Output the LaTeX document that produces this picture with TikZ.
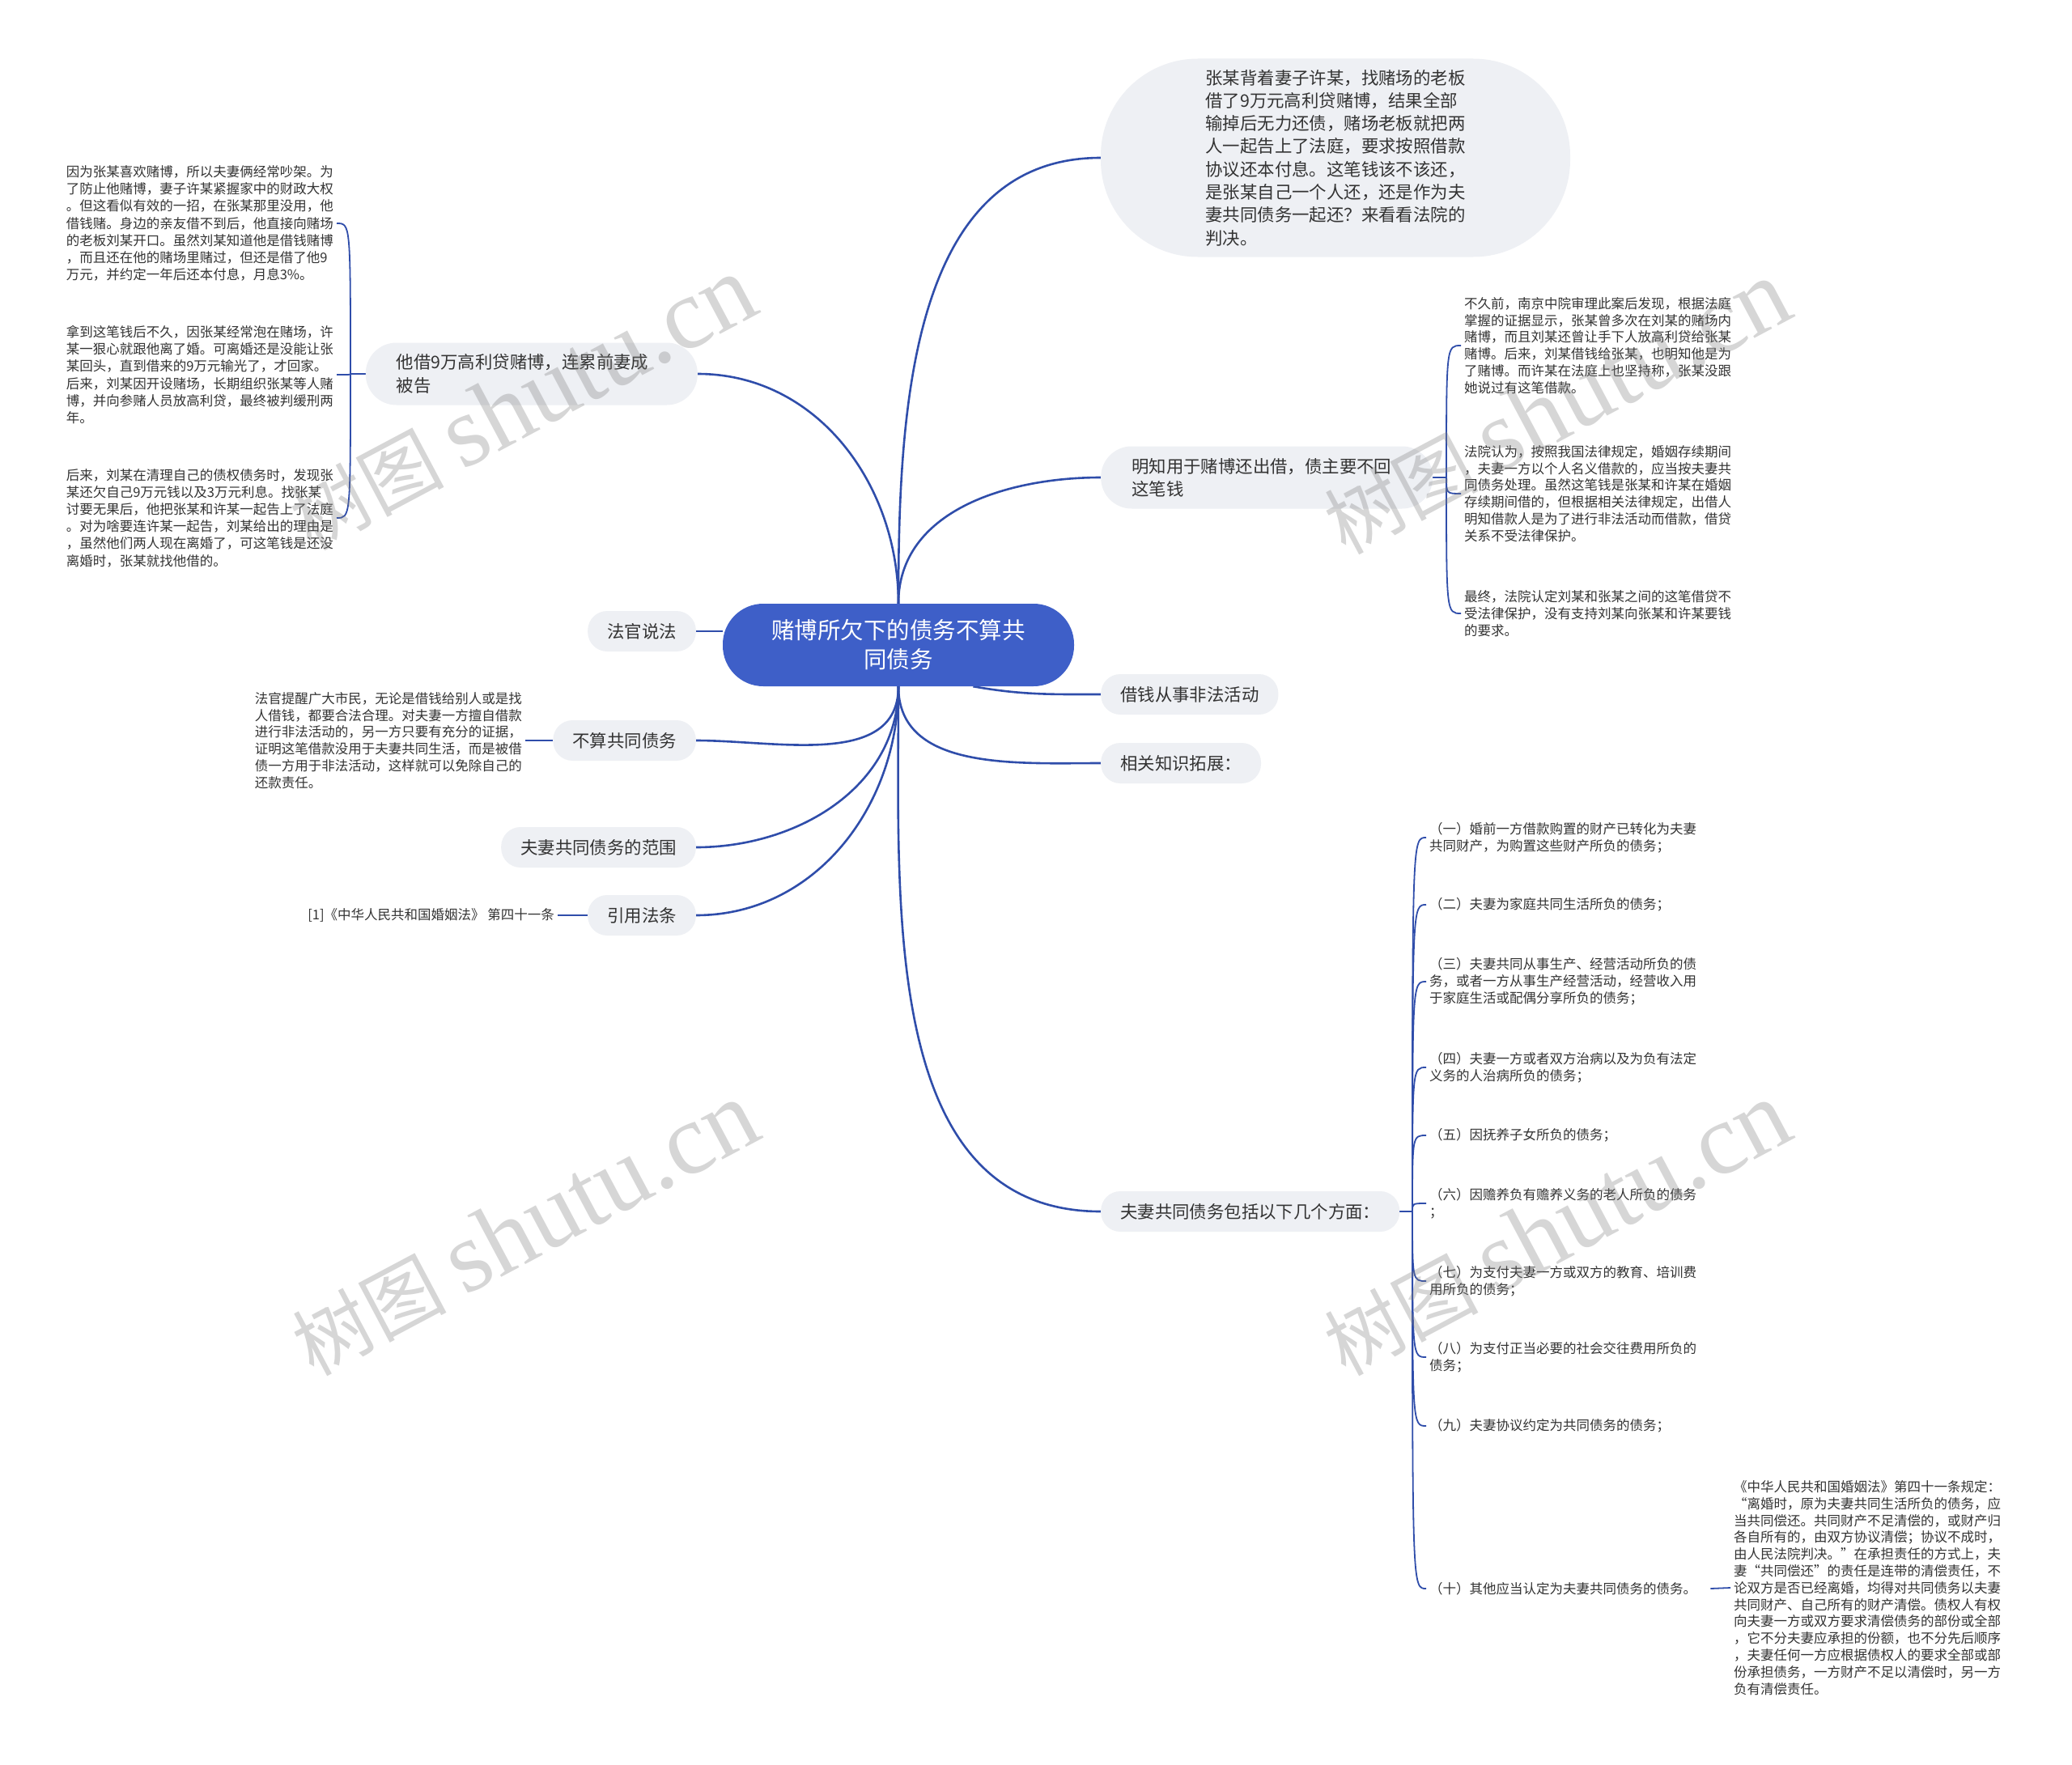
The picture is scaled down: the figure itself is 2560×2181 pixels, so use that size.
\documentclass[tikz,border=0pt]{standalone}
\usepackage{fontspec}
\setmainfont{Noto Sans CJK SC}
\newfontfamily\wmfont{Liberation Serif}
\usetikzlibrary{backgrounds}

\definecolor{blu}{HTML}{3E5FC8}
\definecolor{blusc}{HTML}{2F4DAA}
\definecolor{grigio}{HTML}{EEF0F4}
\definecolor{testo}{HTML}{333333}

\newcommand\rootfont{\fontsize{28.5}{36}\selectfont}
\newcommand\topicfont{\fontsize{21.4}{28.3}\selectfont}
\newcommand\leaffont{\fontsize{16.5}{20.8}\selectfont}
\newcommand\leftleaffont{\fontsize{16.5}{21.2}\selectfont}

\tikzset{
  rootnode/.style={fill=blu, text=white, font=\rootfont, align=center,
    minimum width=434, minimum height=102, rounded corners=50},
  topic/.style={fill=grigio, text=testo, font=\topicfont, inner xsep=24,
    inner ysep=4, minimum height=50, rounded corners=24},
  leaf/.style={text=testo, font=\leaffont, align=left, inner sep=4},
  branch/.style={draw=blusc, line width=2.6},
  twig/.style={draw=blusc, line width=1.8},
  watermark/.style={text=gray, text opacity=0.32, font=\fontsize{95}{95}\selectfont}
}

\begin{document}
\begin{tikzpicture}[x=1pt,y=1pt]
    \useasboundingbox (0,0) rectangle (2560,-2181);

    % Nodo centrale
    \node[rootnode] (root) at (1110,-797) {赌博所欠下的债务不算共\\同债务};

    % Rami a destra
    \node[topic, align=left, minimum width=580, minimum height=245, rounded corners=120] (n1) at (1650,-195)
        {张某背着妻子许某，找赌场的老板\\借了9万元高利贷赌博，结果全部\\输掉后无力还债，赌场老板就把两\\人一起告上了法庭，要求按照借款\\协议还本付息。这笔钱该不该还，\\是张某自己一个人还，还是作为夫\\妻共同债务一起还？来看看法院的\\判决。};
    \node[topic, anchor=west, align=left, text width=334, inner xsep=38, minimum height=77, rounded corners=38] (n2) at (1360,-590)
        {明知用于赌博还出借，债主要不回\\这笔钱};
    \node[topic, anchor=west] (n3) at (1360,-858) {借钱从事非法活动};
    \node[topic, anchor=west] (n4) at (1360,-943) {相关知识拓展：};
    \node[topic, anchor=west] (n5) at (1360,-1497) {夫妻共同债务包括以下几个方面：};

    % Rami a sinistra
    \node[topic, anchor=east, align=left, text width=334, inner xsep=38, minimum height=77, rounded corners=38] (n6) at (862,-462)
        {他借9万高利贷赌博，连累前妻成\\被告};
    \node[topic, anchor=east] (n7) at (860,-780) {法官说法};
    \node[topic, anchor=east] (n8) at (860,-915) {不算共同债务};
    \node[topic, anchor=east] (n9) at (860,-1047) {夫妻共同债务的范围};
    \node[topic, anchor=east] (n10) at (860,-1131) {引用法条};

    % Foglie di n6
    \node[leaf, font=\leftleaffont, anchor=east] (l6a) at (416,-276)
        {因为张某喜欢赌博，所以夫妻俩经常吵架。为\\了防止他赌博，妻子许某紧握家中的财政大权\\。但这看似有效的一招，在张某那里没用，他\\借钱赌。身边的亲友借不到后，他直接向赌场\\的老板刘某开口。虽然刘某知道他是借钱赌博\\，而且还在他的赌场里赌过，但还是借了他9\\万元，并约定一年后还本付息，月息3\%。};
    \node[leaf, font=\leftleaffont, anchor=east] (l6b) at (416,-463)
        {拿到这笔钱后不久，因张某经常泡在赌场，许\\某一狠心就跟他离了婚。可离婚还是没能让张\\某回头，直到借来的9万元输光了，才回家。\\后来，刘某因开设赌场，长期组织张某等人赌\\博，并向参赌人员放高利贷，最终被判缓刑两\\年。};
    \node[leaf, font=\leftleaffont, anchor=east] (l6c) at (416,-640)
        {后来，刘某在清理自己的债权债务时，发现张\\某还欠自己9万元钱以及3万元利息。找张某\\讨要无果后，他把张某和许某一起告上了法庭\\。对为啥要连许某一起告，刘某给出的理由是\\，虽然他们两人现在离婚了，可这笔钱是还没\\离婚时，张某就找他借的。};

    % Foglie di n2
    \node[leaf, anchor=west] (l2a) at (1805,-427)
        {不久前，南京中院审理此案后发现，根据法庭\\掌握的证据显示，张某曾多次在刘某的赌场内\\赌博，而且刘某还曾让手下人放高利贷给张某\\赌博。后来，刘某借钱给张某，也明知他是为\\了赌博。而许某在法庭上也坚持称，张某没跟\\她说过有这笔借款。};
    \node[leaf, anchor=west] (l2b) at (1805,-610)
        {法院认为，按照我国法律规定，婚姻存续期间\\，夫妻一方以个人名义借款的，应当按夫妻共\\同债务处理。虽然这笔钱是张某和许某在婚姻\\存续期间借的，但根据相关法律规定，出借人\\明知借款人是为了进行非法活动而借款，借贷\\关系不受法律保护。};
    \node[leaf, anchor=west] (l2c) at (1805,-758)
        {最终，法院认定刘某和张某之间的这笔借贷不\\受法律保护，没有支持刘某向张某和许某要钱\\的要求。};

    % Foglie di n8 e n10
    \node[leaf, anchor=east] (l8) at (649,-915)
        {法官提醒广大市民，无论是借钱给别人或是找\\人借钱，都要合法合理。对夫妻一方擅自借款\\进行非法活动的，另一方只要有充分的证据，\\证明这笔借款没用于夫妻共同生活，而是被借\\债一方用于非法活动，这样就可以免除自己的\\还款责任。};
    \node[leaf, anchor=east] (l10) at (689,-1131) {[1]《中华人民共和国婚姻法》 第四十一条};

    % Elenco di n5
    \node[leaf, anchor=west] (i1) at (1762,-1035) {（一）婚前一方借款购置的财产已转化为夫妻\\共同财产，为购置这些财产所负的债务；};
    \node[leaf, anchor=west] (i2) at (1762,-1118) {（二）夫妻为家庭共同生活所负的债务；};
    \node[leaf, anchor=west] (i3) at (1762,-1213) {（三）夫妻共同从事生产、经营活动所负的债\\务，或者一方从事生产经营活动，经营收入用\\于家庭生活或配偶分享所负的债务；};
    \node[leaf, anchor=west] (i4) at (1762,-1319) {（四）夫妻一方或者双方治病以及为负有法定\\义务的人治病所负的债务；};
    \node[leaf, anchor=west] (i5) at (1762,-1403) {（五）因抚养子女所负的债务；};
    \node[leaf, anchor=west] (i6) at (1762,-1487) {（六）因赡养负有赡养义务的老人所负的债务\\；};
    \node[leaf, anchor=west] (i7) at (1762,-1583) {（七）为支付夫妻一方或双方的教育、培训费\\用所负的债务；};
    \node[leaf, anchor=west] (i8) at (1762,-1677) {（八）为支付正当必要的社会交往费用所负的\\债务；};
    \node[leaf, anchor=west] (i9) at (1762,-1762) {（九）夫妻协议约定为共同债务的债务；};
    \node[leaf, anchor=west] (i10) at (1762,-1963) {（十）其他应当认定为夫妻共同债务的债务。};
    \node[leaf, anchor=west] (l10x) at (2138,-1962)
        {《中华人民共和国婚姻法》第四十一条规定：\\“离婚时，原为夫妻共同生活所负的债务，应\\当共同偿还。共同财产不足清偿的，或财产归\\各自所有的，由双方协议清偿；协议不成时，\\由人民法院判决。”在承担责任的方式上，夫\\妻“共同偿还”的责任是连带的清偿责任，不\\论双方是否已经离婚，均得对共同债务以夫妻\\共同财产、自己所有的财产清偿。债权人有权\\向夫妻一方或双方要求清偿债务的部份或全部\\，它不分夫妻应承担的份额，也不分先后顺序\\，夫妻任何一方应根据债权人的要求全部或部\\份承担债务，一方财产不足以清偿时，另一方\\负有清偿责任。};

    \begin{scope}[on background layer]
        \fill[white] (0,0) rectangle (2560,-2181);

        % Collegamenti dal nodo centrale
        \draw[branch] (root.north) to[out=90,in=180] (n1.west);
        \draw[branch] (root.north) to[out=90,in=180] (n2.west);
        \draw[branch] (root.north) to[out=90,in=0] (n6.east);
        \draw[branch] (root.west |- n7.east) -- (n7.east);
        \draw[branch] (root.-29.5) to[out=-10,in=180] (n3.west);
        \draw[branch] (root.south) to[out=-90,in=180] (n4.west);
        \draw[branch] (root.south) to[out=-90,in=180] (n5.west);
        \draw[branch] (root.south) to[out=-90,in=0] (n8.east);
        \draw[branch] (root.south) to[out=-90,in=0] (n9.east);
        \draw[branch] (root.south) to[out=-90,in=0] (n10.east);

        % Parentesi verso le foglie
        \coordinate (j6) at (433,-462);
        \draw[twig] (n6.west) -- (j6);
        \draw[twig] (j6) .. controls (j6 |- l6a.east) .. (l6a.east);
        \draw[twig] (j6) .. controls (j6 |- l6b.east) .. (l6b.east);
        \draw[twig] (j6) .. controls (j6 |- l6c.east) .. (l6c.east);

        \coordinate (j2) at (1787,-590);
        \draw[twig] (n2.east) -- (j2);
        \draw[twig] (j2) .. controls (j2 |- l2a.west) .. (l2a.west);
        \draw[twig] (j2) .. controls (j2 |- l2b.west) .. (l2b.west);
        \draw[twig] (j2) .. controls (j2 |- l2c.west) .. (l2c.west);

        \coordinate (j5) at (1745,-1497);
        \draw[twig] (n5.east) -- (j5);
        \draw[twig] (j5) .. controls (j5 |- i1.west) .. (i1.west);
        \draw[twig] (j5) .. controls (j5 |- i2.west) .. (i2.west);
        \draw[twig] (j5) .. controls (j5 |- i3.west) .. (i3.west);
        \draw[twig] (j5) .. controls (j5 |- i4.west) .. (i4.west);
        \draw[twig] (j5) .. controls (j5 |- i5.west) .. (i5.west);
        \draw[twig] (j5) .. controls (j5 |- i6.west) .. (i6.west);
        \draw[twig] (j5) .. controls (j5 |- i7.west) .. (i7.west);
        \draw[twig] (j5) .. controls (j5 |- i8.west) .. (i8.west);
        \draw[twig] (j5) .. controls (j5 |- i9.west) .. (i9.west);
        \draw[twig] (j5) .. controls (j5 |- i10.west) .. (i10.west);

        \draw[twig] (n8.west) -- (l8.east);
        \draw[twig] (n10.west) -- (l10.east);
        \draw[twig] (i10.east) ++(13,0) -- (l10x.west);
    \end{scope}

    % Filigrana
    \node[watermark, rotate=28] (wm1) at (645,-498) {树图 {\fontsize{125}{125}\wmfont shutu.cn}};
    \node[watermark, rotate=28] (wm2) at (1923,-503) {树图 {\fontsize{125}{125}\wmfont shutu.cn}};
    \node[watermark, rotate=28] (wm3) at (648,-1518) {树图 {\fontsize{125}{125}\wmfont shutu.cn}};
    \node[watermark, rotate=28] (wm4) at (1923,-1518) {树图 {\fontsize{125}{125}\wmfont shutu.cn}};
\end{tikzpicture}
\end{document}
